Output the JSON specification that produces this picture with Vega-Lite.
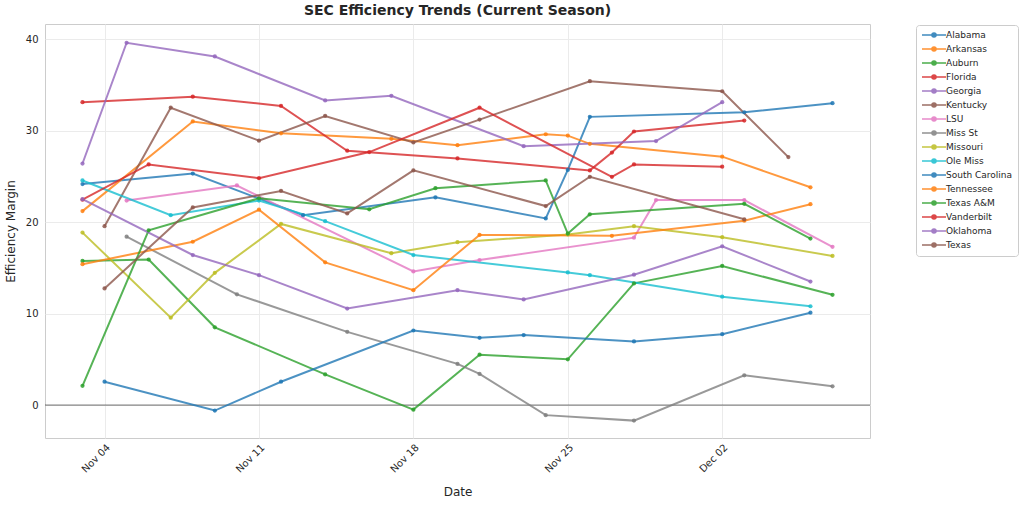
{
  "$schema": "https://vega.github.io/schema/vega-lite/v6.json",
  "autosize": {"type": "none"},
  "padding": {"left": 45, "top": 24, "right": 154, "bottom": 68},
  "width": 825,
  "height": 414,
  "background": "white",
  "title": {"text": "SEC Efficiency Trends (Current Season)", "fontSize": 14, "font": "DejaVu Sans", "fontWeight": "bold", "color": "#262626", "offset": 6, "anchor": "middle"},
  "config": {
    "view": {"stroke": "#cccccc", "strokeWidth": 1},
    "axis": {"labelFont": "DejaVu Sans", "titleFont": "DejaVu Sans", "labelColor": "#262626", "titleColor": "#262626", "titleFontWeight": "normal", "gridColor": "#ebebeb", "gridWidth": 1, "domain": false, "ticks": false}
  },
  "datasets": {
    "teams": [
      {"team": "Alabama", "date": "2024-11-03", "value": 24.15},
      {"team": "Alabama", "date": "2024-11-08", "value": 25.3},
      {"team": "Alabama", "date": "2024-11-13", "value": 20.75},
      {"team": "Alabama", "date": "2024-11-19", "value": 22.7},
      {"team": "Alabama", "date": "2024-11-24", "value": 20.4},
      {"team": "Alabama", "date": "2024-11-25", "value": 25.7},
      {"team": "Alabama", "date": "2024-11-26", "value": 31.5},
      {"team": "Alabama", "date": "2024-12-03", "value": 32.0},
      {"team": "Alabama", "date": "2024-12-07", "value": 33.0},

      {"team": "Arkansas", "date": "2024-11-03", "value": 21.2},
      {"team": "Arkansas", "date": "2024-11-08", "value": 31.0},
      {"team": "Arkansas", "date": "2024-11-12", "value": 29.7},
      {"team": "Arkansas", "date": "2024-11-17", "value": 29.1},
      {"team": "Arkansas", "date": "2024-11-20", "value": 28.4},
      {"team": "Arkansas", "date": "2024-11-24", "value": 29.6},
      {"team": "Arkansas", "date": "2024-11-25", "value": 29.45},
      {"team": "Arkansas", "date": "2024-11-26", "value": 28.55},
      {"team": "Arkansas", "date": "2024-12-02", "value": 27.15},
      {"team": "Arkansas", "date": "2024-12-06", "value": 23.8},

      {"team": "Auburn", "date": "2024-11-03", "value": 15.75},
      {"team": "Auburn", "date": "2024-11-06", "value": 15.9},
      {"team": "Auburn", "date": "2024-11-09", "value": 8.5},
      {"team": "Auburn", "date": "2024-11-14", "value": 3.35},
      {"team": "Auburn", "date": "2024-11-18", "value": -0.5},
      {"team": "Auburn", "date": "2024-11-21", "value": 5.5},
      {"team": "Auburn", "date": "2024-11-25", "value": 5.0},
      {"team": "Auburn", "date": "2024-11-28", "value": 13.3},
      {"team": "Auburn", "date": "2024-12-02", "value": 15.2},
      {"team": "Auburn", "date": "2024-12-07", "value": 12.05},

      {"team": "Florida", "date": "2024-11-03", "value": 33.1},
      {"team": "Florida", "date": "2024-11-08", "value": 33.7},
      {"team": "Florida", "date": "2024-11-12", "value": 32.7},
      {"team": "Florida", "date": "2024-11-15", "value": 27.8},
      {"team": "Florida", "date": "2024-11-20", "value": 26.95},
      {"team": "Florida", "date": "2024-11-26", "value": 25.65},
      {"team": "Florida", "date": "2024-11-27", "value": 27.6},
      {"team": "Florida", "date": "2024-11-28", "value": 29.9},
      {"team": "Florida", "date": "2024-12-03", "value": 31.1},

      {"team": "Georgia", "date": "2024-11-03", "value": 26.4},
      {"team": "Georgia", "date": "2024-11-05", "value": 39.6},
      {"team": "Georgia", "date": "2024-11-09", "value": 38.1},
      {"team": "Georgia", "date": "2024-11-14", "value": 33.3},
      {"team": "Georgia", "date": "2024-11-17", "value": 33.8},
      {"team": "Georgia", "date": "2024-11-23", "value": 28.3},
      {"team": "Georgia", "date": "2024-11-29", "value": 28.85},
      {"team": "Georgia", "date": "2024-12-02", "value": 33.1},

      {"team": "Kentucky", "date": "2024-11-04", "value": 19.55},
      {"team": "Kentucky", "date": "2024-11-07", "value": 32.5},
      {"team": "Kentucky", "date": "2024-11-11", "value": 28.9},
      {"team": "Kentucky", "date": "2024-11-14", "value": 31.6},
      {"team": "Kentucky", "date": "2024-11-18", "value": 28.7},
      {"team": "Kentucky", "date": "2024-11-21", "value": 31.2},
      {"team": "Kentucky", "date": "2024-11-26", "value": 35.4},
      {"team": "Kentucky", "date": "2024-12-02", "value": 34.3},
      {"team": "Kentucky", "date": "2024-12-05", "value": 27.1},

      {"team": "LSU", "date": "2024-11-05", "value": 22.35},
      {"team": "LSU", "date": "2024-11-10", "value": 24.0},
      {"team": "LSU", "date": "2024-11-18", "value": 14.6},
      {"team": "LSU", "date": "2024-11-21", "value": 15.85},
      {"team": "LSU", "date": "2024-11-28", "value": 18.3},
      {"team": "LSU", "date": "2024-11-29", "value": 22.4},
      {"team": "LSU", "date": "2024-12-03", "value": 22.4},
      {"team": "LSU", "date": "2024-12-07", "value": 17.3},

      {"team": "Miss St", "date": "2024-11-05", "value": 18.4},
      {"team": "Miss St", "date": "2024-11-10", "value": 12.1},
      {"team": "Miss St", "date": "2024-11-15", "value": 8.0},
      {"team": "Miss St", "date": "2024-11-20", "value": 4.5},
      {"team": "Miss St", "date": "2024-11-21", "value": 3.4},
      {"team": "Miss St", "date": "2024-11-24", "value": -1.1},
      {"team": "Miss St", "date": "2024-11-28", "value": -1.7},
      {"team": "Miss St", "date": "2024-12-03", "value": 3.25},
      {"team": "Miss St", "date": "2024-12-07", "value": 2.05},

      {"team": "Missouri", "date": "2024-11-03", "value": 18.85},
      {"team": "Missouri", "date": "2024-11-07", "value": 9.55},
      {"team": "Missouri", "date": "2024-11-09", "value": 14.45},
      {"team": "Missouri", "date": "2024-11-12", "value": 19.8},
      {"team": "Missouri", "date": "2024-11-17", "value": 16.6},
      {"team": "Missouri", "date": "2024-11-20", "value": 17.8},
      {"team": "Missouri", "date": "2024-11-25", "value": 18.65},
      {"team": "Missouri", "date": "2024-11-28", "value": 19.55},
      {"team": "Missouri", "date": "2024-12-02", "value": 18.35},
      {"team": "Missouri", "date": "2024-12-07", "value": 16.3},

      {"team": "Ole Miss", "date": "2024-11-03", "value": 24.55},
      {"team": "Ole Miss", "date": "2024-11-07", "value": 20.75},
      {"team": "Ole Miss", "date": "2024-11-11", "value": 22.35},
      {"team": "Ole Miss", "date": "2024-11-14", "value": 20.1},
      {"team": "Ole Miss", "date": "2024-11-18", "value": 16.4},
      {"team": "Ole Miss", "date": "2024-11-25", "value": 14.5},
      {"team": "Ole Miss", "date": "2024-11-26", "value": 14.2},
      {"team": "Ole Miss", "date": "2024-12-02", "value": 11.85},
      {"team": "Ole Miss", "date": "2024-12-06", "value": 10.8},

      {"team": "South Carolina", "date": "2024-11-04", "value": 2.55},
      {"team": "South Carolina", "date": "2024-11-09", "value": -0.6},
      {"team": "South Carolina", "date": "2024-11-12", "value": 2.55},
      {"team": "South Carolina", "date": "2024-11-18", "value": 8.15},
      {"team": "South Carolina", "date": "2024-11-21", "value": 7.35},
      {"team": "South Carolina", "date": "2024-11-23", "value": 7.65},
      {"team": "South Carolina", "date": "2024-11-28", "value": 6.95},
      {"team": "South Carolina", "date": "2024-12-02", "value": 7.75},
      {"team": "South Carolina", "date": "2024-12-06", "value": 10.1},

      {"team": "Tennessee", "date": "2024-11-03", "value": 15.4},
      {"team": "Tennessee", "date": "2024-11-08", "value": 17.85},
      {"team": "Tennessee", "date": "2024-11-11", "value": 21.35},
      {"team": "Tennessee", "date": "2024-11-14", "value": 15.6},
      {"team": "Tennessee", "date": "2024-11-18", "value": 12.55},
      {"team": "Tennessee", "date": "2024-11-21", "value": 18.6},
      {"team": "Tennessee", "date": "2024-11-27", "value": 18.5},
      {"team": "Tennessee", "date": "2024-12-03", "value": 20.15},
      {"team": "Tennessee", "date": "2024-12-06", "value": 21.95},

      {"team": "Texas A&M", "date": "2024-11-03", "value": 2.1},
      {"team": "Texas A&M", "date": "2024-11-06", "value": 19.1},
      {"team": "Texas A&M", "date": "2024-11-11", "value": 22.6},
      {"team": "Texas A&M", "date": "2024-11-16", "value": 21.4},
      {"team": "Texas A&M", "date": "2024-11-19", "value": 23.7},
      {"team": "Texas A&M", "date": "2024-11-24", "value": 24.55},
      {"team": "Texas A&M", "date": "2024-11-25", "value": 18.75},
      {"team": "Texas A&M", "date": "2024-11-26", "value": 20.85},
      {"team": "Texas A&M", "date": "2024-12-03", "value": 22.0},
      {"team": "Texas A&M", "date": "2024-12-06", "value": 18.2},

      {"team": "Vanderbilt", "date": "2024-11-03", "value": 22.45},
      {"team": "Vanderbilt", "date": "2024-11-06", "value": 26.3},
      {"team": "Vanderbilt", "date": "2024-11-11", "value": 24.8},
      {"team": "Vanderbilt", "date": "2024-11-16", "value": 27.65},
      {"team": "Vanderbilt", "date": "2024-11-21", "value": 32.5},
      {"team": "Vanderbilt", "date": "2024-11-27", "value": 24.95},
      {"team": "Vanderbilt", "date": "2024-11-28", "value": 26.3},
      {"team": "Vanderbilt", "date": "2024-12-02", "value": 26.05},

      {"team": "Oklahoma", "date": "2024-11-03", "value": 22.5},
      {"team": "Oklahoma", "date": "2024-11-08", "value": 16.4},
      {"team": "Oklahoma", "date": "2024-11-11", "value": 14.2},
      {"team": "Oklahoma", "date": "2024-11-15", "value": 10.55},
      {"team": "Oklahoma", "date": "2024-11-20", "value": 12.55},
      {"team": "Oklahoma", "date": "2024-11-23", "value": 11.55},
      {"team": "Oklahoma", "date": "2024-11-28", "value": 14.25},
      {"team": "Oklahoma", "date": "2024-12-02", "value": 17.35},
      {"team": "Oklahoma", "date": "2024-12-06", "value": 13.5},

      {"team": "Texas", "date": "2024-11-04", "value": 12.75},
      {"team": "Texas", "date": "2024-11-08", "value": 21.6},
      {"team": "Texas", "date": "2024-11-12", "value": 23.4},
      {"team": "Texas", "date": "2024-11-15", "value": 20.95},
      {"team": "Texas", "date": "2024-11-18", "value": 25.65},
      {"team": "Texas", "date": "2024-11-24", "value": 21.75},
      {"team": "Texas", "date": "2024-11-26", "value": 24.95},
      {"team": "Texas", "date": "2024-12-03", "value": 20.3}
    ]
  },
  "layer": [
    {
      "data": {"values": [{"zero": 0}]},
      "mark": {"type": "rule", "color": "#000000", "strokeWidth": 0.8, "opacity": 0.7},
      "encoding": {"y": {"field": "zero", "type": "quantitative"}}
    },
    {
      "data": {"name": "teams"},
      "mark": {"type": "line", "strokeWidth": 2, "opacity": 0.8, "point": {"filled": true, "size": 18, "opacity": 0.85}},
      "encoding": {
        "x": {
          "field": "date", "type": "temporal",
          "scale": {"type": "utc", "domain": [{"year": 2024, "month": 11, "date": 1, "hours": 7, "minutes": 12, "utc": true}, {"year": 2024, "month": 12, "date": 8, "hours": 16, "minutes": 48, "utc": true}]},
          "axis": {
            "values": [{"year": 2024, "month": 11, "date": 4, "utc": true}, {"year": 2024, "month": 11, "date": 11, "utc": true}, {"year": 2024, "month": 11, "date": 18, "utc": true}, {"year": 2024, "month": 11, "date": 25, "utc": true}, {"year": 2024, "month": 12, "date": 2, "utc": true}],
            "labelExpr": "utcFormat(datum.value, '%b %d')", "labelAngle": -45, "labelFontSize": 10, "labelPadding": 4,
            "title": "Date", "titleFontSize": 12, "titlePadding": 12, "grid": true
          }
        },
        "y": {
          "field": "value", "type": "quantitative",
          "scale": {"domain": [-3.6, 41.65], "nice": false, "zero": false},
          "axis": {"values": [0, 10, 20, 30, 40], "labelFontSize": 10, "labelPadding": 7, "title": "Efficiency Margin", "titleFontSize": 12, "titlePadding": 8, "grid": true}
        },
        "color": {
          "field": "team", "type": "nominal",
          "scale": {
            "domain": ["Alabama", "Arkansas", "Auburn", "Florida", "Georgia", "Kentucky", "LSU", "Miss St", "Missouri", "Ole Miss", "South Carolina", "Tennessee", "Texas A&M", "Vanderbilt", "Oklahoma", "Texas"],
            "range": ["#1f77b4", "#ff7f0e", "#2ca02c", "#d62728", "#9467bd", "#8c564b", "#e377c2", "#7f7f7f", "#bcbd22", "#17becf", "#1f77b4", "#ff7f0e", "#2ca02c", "#d62728", "#9467bd", "#8c564b"]
          },
          "legend": {
            "title": null, "orient": "none", "legendX": 871, "legendY": 1,
            "padding": 5, "strokeColor": "#cccccc", "fillColor": "white", "cornerRadius": 3,
            "labelFont": "DejaVu Sans", "labelFontSize": 9, "labelColor": "#262626", "labelOffset": 15,
            "symbolType": "M-1,0H5M1.5,0A0.5,0.5 0 1,0 2.5,0A0.5,0.5 0 1,0 1.5,0",
            "symbolSize": 64, "symbolStrokeWidth": 1.6, "symbolOpacity": 0.85, "rowPadding": 2
          }
        }
      }
    }
  ]
}
